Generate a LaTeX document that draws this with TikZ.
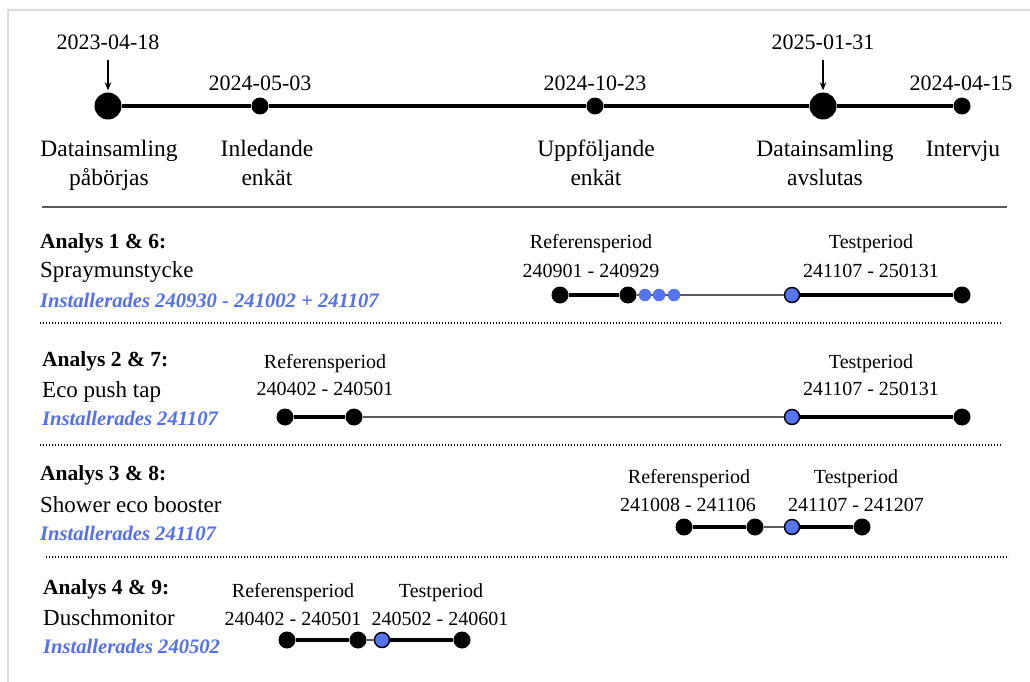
\documentclass[tikz,border=0pt]{standalone}
\usepackage{fontspec}
\setmainfont{Liberation Serif}
\usetikzlibrary{arrows.meta}
\definecolor{myblue}{RGB}{86,116,248}
\definecolor{txtblue}{RGB}{84,112,240}
\definecolor{framegray}{RGB}{218,218,218}
\definecolor{linegray}{RGB}{90,90,90}
\begin{document}
\begin{tikzpicture}[x=1pt,y=-1pt,
  dot/.style={circle,fill=black,inner sep=0pt,minimum size=17pt},
  bigdot/.style={circle,fill=black,inner sep=0pt,minimum size=27pt},
  bluedot/.style={circle,fill=myblue,draw=black,line width=1.5pt,inner sep=0pt,minimum size=15pt},
  smallblue/.style={circle,fill=myblue,inner sep=0pt,minimum size=12.5pt},
  mainline/.style={line width=4pt},
  thickl/.style={line width=3.6pt},
  thinl/.style={line width=1.1pt,linegray},
  arr/.style={-{Stealth[length=8pt,width=6.5pt]},line width=1.4pt},
  toplab/.style={inner sep=0pt,font=\fontsize{23.5}{28}\selectfont},
  topdate/.style={inner sep=0pt,font=\fontsize{22}{26}\selectfont},
  atitle/.style={inner sep=0pt,font=\fontsize{21.5}{26}\selectfont\bfseries},
  dev/.style={inner sep=0pt,font=\fontsize{23}{27}\selectfont},
  inst/.style={inner sep=0pt,text=txtblue,font=\fontsize{20.6}{25}\selectfont\bfseries\itshape},
  plab/.style={inner sep=0pt,font=\fontsize{20}{24}\selectfont},
  solidsep/.style={line width=1.2pt,linegray},
  dotsep/.style={line width=1.4pt,dash pattern=on 1.4pt off 1.6pt}
]
\useasboundingbox (0,0) rectangle (1030,682);
\fill[white] (0,0) rectangle (1030,682);
\draw[framegray,line width=2pt] (8,682) -- (8,10.5) -- (1030,10.5);

% ---------- top timeline ----------
\node[bigdot] (t1) at (108,106) {};
\node[dot] (t2) at (260,106) {};
\node[dot] (t3) at (595,106) {};
\node[bigdot] (t4) at (823,106) {};
\node[dot] (t5) at (962,106) {};
\draw[mainline] (t1) -- (t2) -- (t3) -- (t4) -- (t5);

\node[topdate,anchor=base] (d1) at (108,50) {2023-04-18};
\node[topdate,anchor=base] (d2) at (260,91) {2024-05-03};
\node[topdate,anchor=base] (d3) at (595,91) {2024-10-23};
\node[topdate,anchor=base] (d4) at (823,50) {2025-01-31};
\node[topdate,anchor=base] (d5) at (961,91) {2024-04-15};
\draw[arr,shorten <=10pt,shorten >=2pt] (d1) -- (t1);
\draw[arr,shorten <=10pt,shorten >=2pt] (d4) -- (t4);

\node[toplab,anchor=base] (l1a) at (109,157) {Datainsamling};
\node[toplab,anchor=base] (l1b) at (109,185) {påbörjas};
\node[toplab,anchor=base] (l2a) at (267,157) {Inledande};
\node[toplab,anchor=base] (l2b) at (267,185) {enkät};
\node[toplab,anchor=base] (l3a) at (596,157) {Uppföljande};
\node[toplab,anchor=base] (l3b) at (596,185) {enkät};
\node[toplab,anchor=base] (l4a) at (825,157) {Datainsamling};
\node[toplab,anchor=base] (l4b) at (825,185) {avslutas};
\node[toplab,anchor=base] (l5a) at (963,157) {Intervju};

\coordinate (s0a) at (42,207);
\coordinate (s0b) at (1007,207);
\draw[solidsep] (s0a) -- (s0b);

% ---------- Analys 1 & 6 ----------
\node[atitle,anchor=base west] (a1t) at (40,248) {Analys 1 \& 6:};
\node[dev,anchor=base west] (a1d) at (40,277) {Spraymunstycke};
\node[inst,anchor=base west] (a1i) at (40,307) {Installerades 240930 - 241002 + 241107};
\node[plab,anchor=base] (a1r) at (591,248) {Referensperiod};
\node[plab,anchor=base] (a1rd) at (591,277) {240901 - 240929};
\node[plab,anchor=base] (a1p) at (871,248) {Testperiod};
\node[plab,anchor=base] (a1pd) at (871,277) {241107 - 250131};
\node[dot] (r1a) at (560,295) {};
\node[dot] (r1b) at (628,295) {};
\node[bluedot] (p1a) at (792,295) {};
\node[dot] (p1b) at (962,295) {};
\draw[thickl] (r1a) -- (r1b);
\draw[thinl] (r1b) -- (p1a);
\draw[thickl] (p1a) -- (p1b);
\node[smallblue] (b1a) at (645,295) {};
\node[smallblue] (b1b) at (659,295) {};
\node[smallblue] (b1c) at (674,295) {};

\coordinate (s1a) at (40,323);
\coordinate (s1b) at (1002,323);
\draw[dotsep] (s1a) -- (s1b);

% ---------- Analys 2 & 7 ----------
\node[atitle,anchor=base west] (a2t) at (42,366) {Analys 2 \& 7:};
\node[dev,anchor=base west] (a2d) at (42,397) {Eco push tap};
\node[inst,anchor=base west] (a2i) at (42,425) {Installerades 241107};
\node[plab,anchor=base] (a2r) at (325,368) {Referensperiod};
\node[plab,anchor=base] (a2rd) at (325,395) {240402 - 240501};
\node[plab,anchor=base] (a2p) at (871,368) {Testperiod};
\node[plab,anchor=base] (a2pd) at (871,395) {241107 - 250131};
\node[dot] (r2a) at (285,417) {};
\node[dot] (r2b) at (354,417) {};
\node[bluedot] (p2a) at (792,417) {};
\node[dot] (p2b) at (962,417) {};
\draw[thickl] (r2a) -- (r2b);
\draw[thinl] (r2b) -- (p2a);
\draw[thickl] (p2a) -- (p2b);

\coordinate (s2a) at (40,445);
\coordinate (s2b) at (1002,445);
\draw[dotsep] (s2a) -- (s2b);

% ---------- Analys 3 & 8 ----------
\node[atitle,anchor=base west] (a3t) at (40,480) {Analys 3 \& 8:};
\node[dev,anchor=base west] (a3d) at (40,512) {Shower eco booster};
\node[inst,anchor=base west] (a3i) at (40,540) {Installerades 241107};
\node[plab,anchor=base] (a3r) at (689,483) {Referensperiod};
\node[plab,anchor=base] (a3rd) at (688,511) {241008 - 241106};
\node[plab,anchor=base] (a3p) at (856,483) {Testperiod};
\node[plab,anchor=base] (a3pd) at (856,511) {241107 - 241207};
\node[dot] (r3a) at (684,527) {};
\node[dot] (r3b) at (755,527) {};
\node[bluedot] (p3a) at (792,527) {};
\node[dot] (p3b) at (862,527) {};
\draw[thickl] (r3a) -- (r3b);
\draw[thinl] (r3b) -- (p3a);
\draw[thickl] (p3a) -- (p3b);

\coordinate (s3a) at (46,557);
\coordinate (s3b) at (1009,557);
\draw[dotsep] (s3a) -- (s3b);

% ---------- Analys 4 & 9 ----------
\node[atitle,anchor=base west] (a4t) at (43,594) {Analys 4 \& 9:};
\node[dev,anchor=base west] (a4d) at (43,625) {Duschmonitor};
\node[inst,anchor=base west] (a4i) at (43,653) {Installerades 240502};
\node[plab,anchor=base] (a4r) at (293,597) {Referensperiod};
\node[plab,anchor=base] (a4rd) at (293,625) {240402 - 240501};
\node[plab,anchor=base] (a4p) at (441,597) {Testperiod};
\node[plab,anchor=base] (a4pd) at (440,625) {240502 - 240601};
\node[dot] (r4a) at (287,640) {};
\node[dot] (r4b) at (358,640) {};
\node[bluedot] (p4a) at (382,640) {};
\node[dot] (p4b) at (462,640) {};
\draw[thickl] (r4a) -- (r4b);
\draw[thinl] (r4b) -- (p4a);
\draw[thickl] (p4a) -- (p4b);
\end{tikzpicture}
\end{document}
